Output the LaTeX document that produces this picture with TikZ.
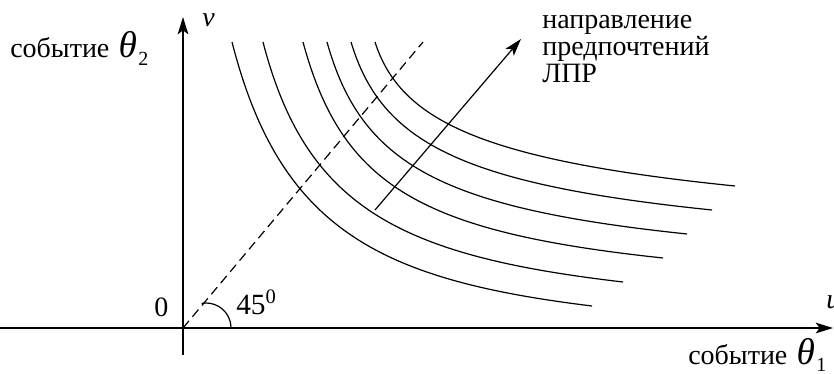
\documentclass[tikz,border=0pt]{standalone}
\usepackage{fontspec}
\setmainfont{Liberation Serif}
\usetikzlibrary{arrows.meta, calc, positioning}

\newcommand{\lbfont}{\fontsize{21}{21}\selectfont}
\newcommand{\evsub}[1]{{\fontsize{28}{28}\selectfont\textit{θ}}\kern1pt\raisebox{-0.6ex}{\fontsize{15}{15}\selectfont #1}}

\tikzset{
  axis/.style={line width=1.1pt, -{Stealth[length=13pt, width=8pt, inset=3pt]}},
  level/.style={line width=0.9pt},
  diag/.style={line width=0.9pt, dash pattern=on 7pt off 4pt},
  lbl/.style={font=\lbfont, inner sep=0pt, anchor=base west}
}

\begin{document}
\begin{tikzpicture}[x=0.75pt, y=-0.75pt]
  \useasboundingbox (0,0) rectangle (834,374);
  % axes
  \coordinate (O) at (183,328);
  \coordinate (xs) at (0,328);
  \coordinate (xe) at (833,328);
  \coordinate (ys) at (183,355);
  \coordinate (ye) at (183,17);
  \draw[axis] (xs) -- (xe);
  \draw[axis] (ys) -- (ye);
  % 45 degree line and angle mark
  \coordinate (d) at (423,42);
  \draw[diag] (O) -- (d);
  \coordinate (a0) at (231,328);
  \draw[line width=0.9pt] (a0) arc[start angle=0, end angle=-100, radius=25];
  % indifference curves
  \foreach \sx/\ax/\ay/\bx/\by/\ex/\ey in {
      232/280/230/380/280/592/306,
      263/306/208/400/256/623/282,
      303/342/186/420/232/663/258,
      327/361/164/440/208/687/234,
      351/381/142/460/184/712/210,
      375/400/120/480/160/735/186}
    \draw[level] (\sx,42) .. controls (\ax,\ay) and (\bx,\by) .. (\ex,\ey);
  % direction of preference
  \coordinate (p0) at (375,210);
  \coordinate (p1) at (521,39);
  \draw[axis, line width=0.9pt] (p0) -- (p1);
  % labels
  \node[lbl] (vlab) at (202,27) {\textit{v}};
  \node[lbl] (ulab) at (826,308) {\textit{u}};
  \node[lbl] (zero) at (154,316) {0};
  \node[lbl, font=\fontsize{22}{22}\selectfont] (ang) at (236,314) {45\textsuperscript{0}};
  \node[lbl] (ev2) at (10,58) {событие\hspace{7pt}\evsub{2}};
  \node[lbl] (ev1) at (688,364) {событие\hspace{7pt}\evsub{1}};
  \node[lbl] (pref1) at (542,29) {направление};
  \node[lbl] (pref2) at (542,56) {предпочтений};
  \node[lbl] (pref3) at (542,83) {ЛПР};
\end{tikzpicture}
\end{document}
